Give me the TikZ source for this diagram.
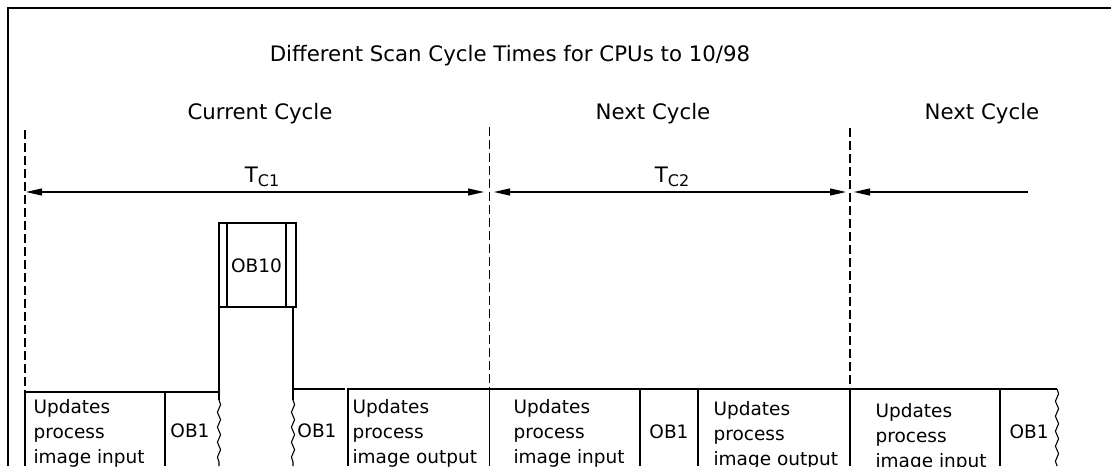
\documentclass[tikz,border=0pt]{standalone}
\usepackage{fontspec}
\setmainfont{DejaVu Sans}
\usetikzlibrary{arrows.meta, decorations.pathmorphing}

\tikzset{
	hdr/.style={font=\fontsize{21.3}{26}\selectfont, anchor=base},
	cell/.style={font=\fontsize{18.5}{25}\selectfont, align=left, anchor=north west},
	obtxt/.style={font=\fontsize{18.5}{25}\selectfont},
	cut/.style={decorate, decoration={snake, amplitude=1.6pt, segment length=15pt}},
	cycline/.style={dash pattern=on 9pt off 4pt},
	tip/.tip={Triangle[length=16pt,width=7pt]},
}

\begin{document}
\begin{tikzpicture}[x=1pt,y=-1pt,every node/.style={inner sep=0pt},line width=1.1pt]
	\useasboundingbox (0,0) rectangle (1111,466);
	% frame
	\draw[line width=2pt] (8,466) -- (8,8) -- (1111,8);
	% headings
	\node[hdr] (title) at (510,61.5) {Different Scan Cycle Times for CPUs to 10/98};
	\node[hdr] (cur) at (260,119) {Current Cycle};
	\node[hdr] (nextA) at (653,119) {Next Cycle};
	\node[hdr] (nextB) at (982,119) {Next Cycle};
	% cycle borders
	\draw[cycline] (25,130) -- (25,392);
	\draw[cycline] (489.5,127) -- (489.5,389);
	\draw[cycline] (850,128) -- (850,389);
	% cycle times
	\coordinate (a0) at (26,192);
	\coordinate (a1) at (484,192);
	\coordinate (a2) at (494,192);
	\coordinate (a3) at (846,192);
	\coordinate (a4) at (854,192);
	\coordinate (a5) at (1028,192);
	\draw[tip-tip] (a0) -- (a1);
	\draw[tip-tip] (a2) -- (a3);
	\draw[tip-] (a4) -- (a5);
	\node[hdr] (tc1) at (262,182) {T\raisebox{-4pt}{\fontsize{16}{16}\selectfont C1}};
	\node[hdr] (tc2) at (672,182) {T\raisebox{-4pt}{\fontsize{16}{16}\selectfont C2}};
	% OB10 interrupt
	\draw (219,223) rectangle (296,307);
	\draw (227,223) -- (227,307);
	\draw (286,223) -- (286,307);
	\node[font=\fontsize{18.5}{25}\selectfont, anchor=base] (ob10) at (256.5,272) {OB10};
	\draw (219,307) -- (219,400);
	\draw (293,307) -- (293,400);
	\draw[cut] (219,400) -- (219,466);
	\draw[cut] (293,400) -- (293,466);
	% scan cycle boxes
	\draw (25,466) -- (25,392) -- (219,392);
	\draw (165,392) -- (165,466);
	\draw (293,389) -- (345,389);
	\draw (348,466) -- (348,389) -- (1057,389);
	\draw (489.5,389) -- (489.5,466);
	\draw (640,389) -- (640,466);
	\draw (698,389) -- (698,466);
	\draw[line width=2pt] (850,389) -- (850,466);
	\draw (1000,389) -- (1000,466);
	\draw[cut] (1057,389) -- (1057,466);
	% texts
	\node[cell] (pii1) at (33,399) {Updates\\process\\image input};
	\node[obtxt] (ob1a) at (190,431) {OB1};
	\node[obtxt] (ob1b) at (317,431) {OB1};
	\node[cell] (pio1) at (352,399) {Updates\\process\\image output};
	\node[cell] (pii2) at (513,399) {Updates\\process\\image input};
	\node[obtxt] (ob1c) at (669,432) {OB1};
	\node[cell] (pio2) at (713,401) {Updates\\process\\image output};
	\node[cell] (pii3) at (875,403) {Updates\\process\\image input};
	\node[obtxt] (ob1d) at (1029,432) {OB1};
\end{tikzpicture}
\end{document}
